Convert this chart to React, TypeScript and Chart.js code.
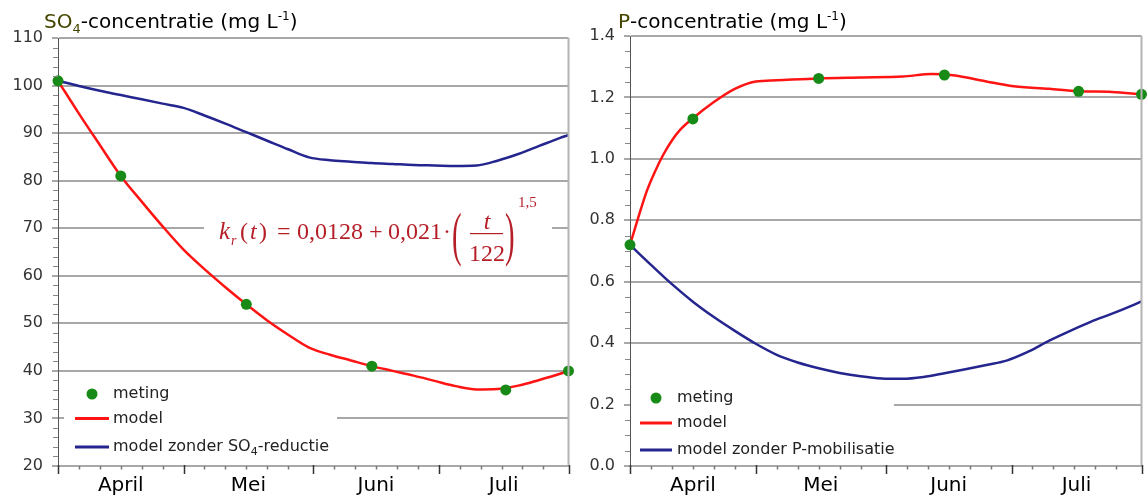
import React, { useEffect, useRef } from 'react';
import { Chart, registerables } from 'chart.js';

Chart.register(...registerables);

const SANS = "'DejaVu Sans', 'Liberation Sans', sans-serif";
const SERIF = "'Liberation Serif', 'DejaVu Serif', serif";

// ---- axis data ----
const months = ['April', 'Mei', 'Juni', 'Juli'];
const monthStarts = [0, 30, 61, 91, 122];
const monthMids = [15, 45.5, 76, 106.5];
const minorTickOffsets = [5, 10, 15, 20, 25];

// ---- measurements ----
const measDays = [0, 15, 45, 75, 107, 122];
const so4Meting = [101, 81, 54, 41, 36, 40];
const pMeting = [0.72, 1.13, 1.262, 1.273, 1.22, 1.21];

// ---- model curves ----
const curveDays = [0, 5, 10, 15, 20, 25, 30, 35, 40, 45, 50, 55, 60, 65, 70, 75, 80, 85, 90, 95, 100, 105, 110, 115, 120, 122];
const so4Model = [101, 94.1, 87.5, 81, 75.6, 70.4, 65.5, 61.4, 57.6, 54, 50.6, 47.6, 44.9, 43.4, 42.2, 41, 40, 39, 37.9, 36.8, 36.1, 36.2, 36.9, 38.1, 39.4, 40];
const so4NoReduction = [101, 99.9, 98.9, 98, 97.1, 96.2, 95.3, 93.7, 92, 90.2, 88.4, 86.6, 84.9, 84.3, 84, 83.7, 83.5, 83.3, 83.2, 83.1, 83.2, 84.2, 85.6, 87.3, 89, 89.6];
const pNoMobilisation = [0.72, 0.655, 0.592, 0.535, 0.485, 0.44, 0.398, 0.362, 0.337, 0.318, 0.303, 0.292, 0.285, 0.284, 0.29, 0.302, 0.315, 0.329, 0.344, 0.372, 0.408, 0.44, 0.47, 0.496, 0.524, 0.536];

const pModelDays = [0, 2, 4, 6, 8, 10, 12, 15, 20, 25, 30, 35, 45, 55, 65, 72, 77, 85, 91, 100, 107, 115, 122];
const pModel = [0.72, 0.81, 0.895, 0.96, 1.015, 1.06, 1.095, 1.132, 1.185, 1.228, 1.252, 1.256, 1.262, 1.265, 1.268, 1.276, 1.272, 1.252, 1.237, 1.228, 1.22, 1.218, 1.21];

const GREEN = '#178a17';
const RED = '#ff1414';
const BLUE = '#25258f';
const OLIVE = '#444400';
const GRID = '#a8a8a8';

const pts = (xs: number[], ys: number[]) => xs.map((x, i) => ({ x, y: ys[i] }));

function drawRich(ctx: CanvasRenderingContext2D, text: string, x: number, y: number, size: number) {
  const parts = text.split('₄');
  let cx = x;
  parts.forEach((p, i) => {
    ctx.font = `${size}px ${SANS}`;
    ctx.fillText(p, cx, y);
    cx += ctx.measureText(p).width;
    if (i < parts.length - 1) {
      ctx.font = `${Math.round(size * 0.7)}px ${SANS}`;
      ctx.fillText('4', cx, y + size * 0.3);
      cx += ctx.measureText('4').width;
    }
  });
}

function drawEquation(ctx: CanvasRenderingContext2D) {
  const put = (t: string, x: number, y: number, f: string) => {
    ctx.font = f;
    ctx.fillText(t, x, y);
  };
  const it = (s: number) => `italic ${s}px ${SERIF}`;
  const rm = (s: number) => `${s}px ${SERIF}`;
  const bigParen = (ch: string, x: number, yc: number) => {
    ctx.save();
    ctx.translate(x, yc);
    ctx.scale(0.72, 1.5);
    ctx.font = rm(40);
    ctx.fillText(ch, 0, 10);
    ctx.restore();
  };
  ctx.save();
  ctx.fillStyle = '#b51f28';
  ctx.strokeStyle = '#b51f28';
  ctx.textBaseline = 'alphabetic';
  ctx.textAlign = 'left';
  put('k', 219, 239, it(25));
  put('r', 231, 245, it(14));
  put('(', 240, 239, rm(24));
  put('t', 250, 239, it(24));
  put(')', 259, 239, rm(24));
  put('=', 277, 239, rm(24));
  put('0,0128', 297, 239, rm(24));
  put('+', 369, 239, rm(24));
  put('0,021', 388, 239, rm(24));
  put('·', 443, 239, rm(24));
  bigParen('(', 452, 239);
  ctx.fillRect(470, 233, 33, 1.2);
  ctx.textAlign = 'center';
  put('t', 487, 229, it(24));
  put('122', 487, 261, rm(24));
  ctx.textAlign = 'left';
  bigParen(')', 505, 239);
  put('1,5', 518, 207, rm(15));
  ctx.restore();
}

const decorPlugin = {
  id: 'decor',
  beforeDatasetsDraw(chart: any, _a: any, o: any) {
    const ctx = chart.ctx as CanvasRenderingContext2D;
    ctx.save();
    ctx.fillStyle = '#ffffff';
    (o.boxes || []).forEach((b: number[]) => ctx.fillRect(b[0], b[1], b[2], b[3]));
    ctx.restore();
  },
  afterDatasetsDraw(chart: any, _a: any, o: any) {
    const ctx = chart.ctx as CanvasRenderingContext2D;
    const lg = o.legend;
    ctx.save();
    chart.data.datasets.forEach((ds: any, i: number) => {
      const y = lg.ys[i];
      if (ds.showLine === false) {
        ctx.fillStyle = ds.pointBackgroundColor;
        ctx.beginPath();
        ctx.arc(lg.dotX, y, 5.5, 0, Math.PI * 2);
        ctx.fill();
      } else {
        ctx.strokeStyle = ds.borderColor;
        ctx.lineWidth = 3;
        ctx.beginPath();
        ctx.moveTo(lg.lineX0, y);
        ctx.lineTo(lg.lineX1, y);
        ctx.stroke();
      }
      ctx.fillStyle = '#222';
      ctx.textBaseline = 'middle';
      ctx.textAlign = 'left';
      drawRich(ctx, ds.label, lg.textX, y, 16);
    });
    ctx.restore();
    if (o.equation) drawEquation(ctx);
  },
  afterDraw(chart: any, _a: any, o: any) {
    const ctx = chart.ctx as CanvasRenderingContext2D;
    const ca = chart.chartArea;
    const xs = chart.scales.x;
    const ys = chart.scales.y;
    ctx.save();
    // right frame
    ctx.strokeStyle = '#b4b4b4';
    ctx.lineWidth = 2;
    ctx.beginPath();
    ctx.moveTo(ca.right, ca.top);
    ctx.lineTo(ca.right, ca.bottom);
    ctx.stroke();
    // x major ticks
    ctx.strokeStyle = '#333';
    ctx.lineWidth = 1.5;
    monthStarts.forEach((d) => {
      const px = Math.round(xs.getPixelForValue(d)) + 0.5;
      ctx.beginPath();
      ctx.moveTo(px, ca.bottom - 1);
      ctx.lineTo(px, ca.bottom + 8);
      ctx.stroke();
    });
    // x minor ticks
    ctx.strokeStyle = '#777';
    for (let i = 0; i < monthStarts.length - 1; i++) {
      minorTickOffsets.forEach((off) => {
        const px = Math.round(xs.getPixelForValue(monthStarts[i] + off)) + 0.5;
        ctx.beginPath();
        ctx.moveTo(px, ca.bottom);
        ctx.lineTo(px, ca.bottom + 3.5);
        ctx.stroke();
      });
    }
    // y minor ticks
    ctx.strokeStyle = '#888';
    ctx.lineWidth = 1;
    const n = Math.round((ys.max - ys.min) / o.minorStep);
    const per = Math.round(o.majorStep / o.minorStep);
    for (let k = 0; k <= n; k++) {
      if (k % per === 0) continue;
      const py = Math.round(ys.getPixelForValue(ys.min + k * o.minorStep)) + 0.5;
      ctx.beginPath();
      ctx.moveTo(ca.left - 5, py);
      ctx.lineTo(ca.left, py);
      ctx.stroke();
    }
    // title
    let cx = o.titleX;
    const by = o.titleY;
    ctx.textBaseline = 'alphabetic';
    ctx.textAlign = 'left';
    o.title.forEach((p: any) => {
      const size = p.sub ? 13 : p.sup ? 12 : 20;
      const dy = p.sub ? 5 : p.sup ? -8 : 0;
      ctx.font = `${size}px ${SANS}`;
      ctx.fillStyle = p.c;
      ctx.fillText(p.t, cx, by + dy);
      cx += ctx.measureText(p.t).width;
    });
    ctx.restore();
  },
};

function makeConfig(p: any): any {
  return {
    type: 'line',
    data: {
      datasets: [
        {
          label: 'meting',
          data: pts(measDays, p.meting),
          showLine: false,
          pointRadius: 5.5,
          pointHoverRadius: 5.5,
          pointBorderWidth: 0,
          pointBackgroundColor: GREEN,
          borderColor: GREEN,
          backgroundColor: GREEN,
          clip: false,
        },
        {
          label: 'model',
          data: pts(p.modelDays, p.model),
          borderColor: RED,
          backgroundColor: RED,
          borderWidth: 2.5,
          pointRadius: 0,
          cubicInterpolationMode: 'monotone',
        },
        {
          label: p.blueLabel,
          data: pts(curveDays, p.blue),
          borderColor: BLUE,
          backgroundColor: BLUE,
          borderWidth: 2.5,
          pointRadius: 0,
          cubicInterpolationMode: 'monotone',
        },
      ],
    },
    options: {
      animation: false,
      responsive: false,
      events: [],
      layout: { padding: { left: 0, right: 2, top: p.top, bottom: 0 } },
      plugins: {
        legend: { display: false },
        tooltip: { enabled: false },
        decor: {
          boxes: p.boxes,
          legend: p.legend,
          equation: p.equation,
          minorStep: p.minorStep,
          majorStep: p.step,
          title: p.title,
          titleX: 44,
          titleY: 28,
        },
      },
      scales: {
        x: {
          type: 'linear',
          min: 0,
          max: 122,
          afterBuildTicks: (s: any) => {
            s.ticks = monthMids.map((v) => ({ value: v }));
          },
          afterFit: (s: any) => {
            s.height = 34;
          },
          grid: { display: false, drawTicks: false, tickLength: 0 },
          border: { display: true, color: GRID, width: 2 },
          ticks: {
            autoSkip: false,
            maxRotation: 0,
            padding: 8,
            color: '#000',
            font: { size: 20, family: SANS },
            callback: (_v: any, i: number) => months[i],
          },
        },
        y: {
          min: p.min,
          max: p.max,
          afterFit: (s: any) => {
            s.width = p.axisWidth;
          },
          grid: { color: GRID, lineWidth: 2, tickLength: 6, drawTicks: true, tickColor: GRID },
          border: { display: true, color: '#555', width: 1 },
          ticks: {
            stepSize: p.step,
            padding: 9,
            color: '#333',
            font: { size: 16, family: SANS },
            callback: p.fmt,
          },
        },
      },
    },
    plugins: [decorPlugin],
  };
}

export default function App() {
  const ref1 = useRef<HTMLCanvasElement>(null);
  const ref2 = useRef<HTMLCanvasElement>(null);

  useEffect(() => {
    const c1 = new Chart(
      ref1.current as HTMLCanvasElement,
      makeConfig({
        meting: so4Meting,
        modelDays: curveDays,
        model: so4Model,
        blue: so4NoReduction,
        blueLabel: 'model zonder SO₄-reductie',
        min: 20,
        max: 110,
        step: 10,
        minorStep: 2,
        top: 38,
        axisWidth: 58,
        fmt: (v: number) => String(Math.round(v)),
        boxes: [
          [64, 377, 273, 85],
          [204, 197, 348, 70],
        ],
        legend: { dotX: 92, lineX0: 75, lineX1: 109, textX: 113, ys: [394, 418.5, 447] },
        equation: true,
        title: [
          { t: 'SO', c: OLIVE },
          { t: '4', c: OLIVE, sub: true },
          { t: '-concentratie (mg L', c: '#000' },
          { t: '-1', c: '#000', sup: true },
          { t: ')', c: '#000' },
        ],
      })
    );
    const c2 = new Chart(
      ref2.current as HTMLCanvasElement,
      makeConfig({
        meting: pMeting,
        modelDays: pModelDays,
        model: pModel,
        blue: pNoMobilisation,
        blueLabel: 'model zonder P-mobilisatie',
        min: 0,
        max: 1.4,
        step: 0.2,
        minorStep: 0.05,
        top: 36,
        axisWidth: 56,
        fmt: (v: number) => v.toFixed(1),
        boxes: [[57, 382, 263, 80]],
        legend: { dotX: 82, lineX0: 66, lineX1: 98, textX: 103, ys: [398, 423, 450] },
        equation: false,
        title: [
          { t: 'P', c: OLIVE },
          { t: '-concentratie (mg L', c: '#000' },
          { t: '-1', c: '#000', sup: true },
          { t: ')', c: '#000' },
        ],
      })
    );
    return () => {
      c1.destroy();
      c2.destroy();
    };
  }, []);

  return (
    <div style={{ position: 'absolute', left: 0, top: 0, width: 1147, height: 500, background: '#fff' }}>
      <canvas ref={ref1} width={574} height={500} style={{ position: 'absolute', left: 0, top: 0 }} />
      <canvas ref={ref2} width={573} height={500} style={{ position: 'absolute', left: 574, top: 0 }} />
    </div>
  );
}
